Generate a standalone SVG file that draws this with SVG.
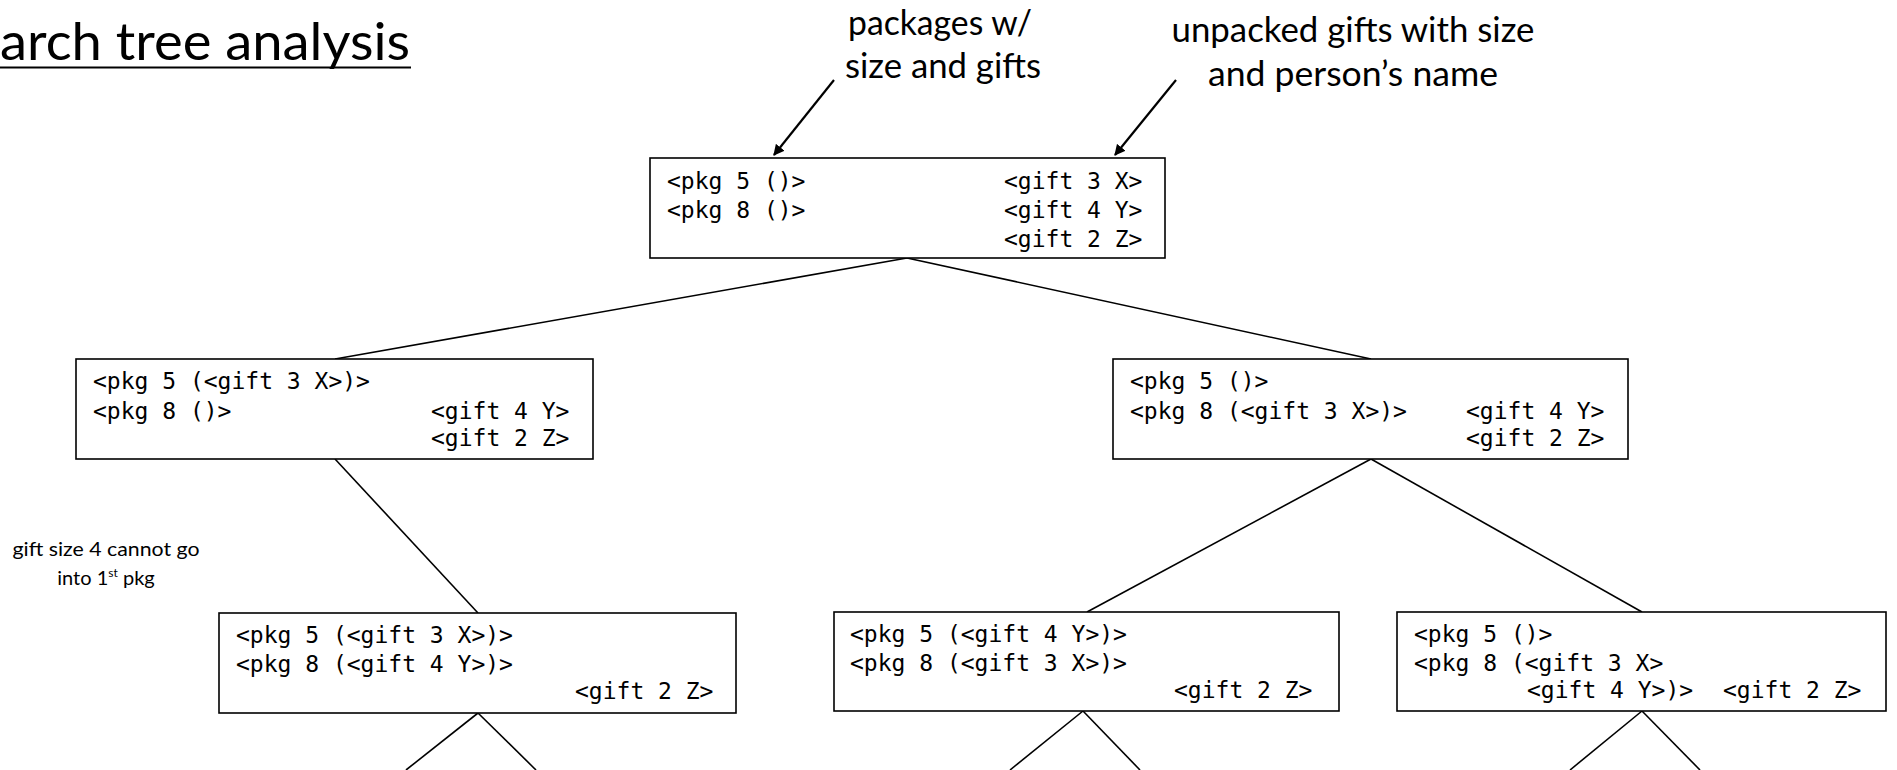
<svg xmlns="http://www.w3.org/2000/svg" width="1897" height="770" viewBox="0 0 1897 770">
<style>
.box{fill:#fff;stroke:#000;stroke-width:1.6}
.mono{font-family:"DejaVu Sans Mono","Liberation Mono",monospace;font-size:23px;fill:#000}
.lbl{font-family:"Lato","Liberation Sans",sans-serif;fill:#000}
.edge{stroke:#000;stroke-width:1.6;fill:none}
.arr{stroke:#000;stroke-width:2.2;fill:none}
</style>
<defs>
<marker id="ah" viewBox="0 0 10 10" refX="9" refY="5" markerWidth="5" markerHeight="5" orient="auto" markerUnits="strokeWidth">
<path d="M0,0 L10,5 L0,10 z" fill="#000"/>
</marker>
</defs>
<rect width="1897" height="770" fill="#fff"/>
<g id="title">
<text class="lbl" x="0" y="60" font-size="52" textLength="410" lengthAdjust="spacingAndGlyphs">arch tree analysis</text>
<line x1="0" y1="67.5" x2="411" y2="67.5" stroke="#000" stroke-width="2.2"/>
</g>
<g id="label-packages">
<text class="lbl" x="940" y="35" font-size="34" text-anchor="middle" textLength="184" lengthAdjust="spacingAndGlyphs">packages w/</text>
<text class="lbl" x="943" y="78" font-size="34" text-anchor="middle" textLength="196" lengthAdjust="spacingAndGlyphs">size and gifts</text>
</g>
<g id="label-unpacked">
<text class="lbl" x="1353" y="42" font-size="34" text-anchor="middle" textLength="363" lengthAdjust="spacingAndGlyphs">unpacked gifts with size</text>
<text class="lbl" x="1353" y="86" font-size="34" text-anchor="middle" textLength="290" lengthAdjust="spacingAndGlyphs">and person’s name</text>
</g>
<g id="note">
<text class="lbl" x="106" y="556" font-size="20" text-anchor="middle" textLength="187" lengthAdjust="spacingAndGlyphs">gift size 4 cannot go</text>
<text class="lbl" x="106" y="585" font-size="20" text-anchor="middle">into 1<tspan font-size="12" dy="-8">st</tspan><tspan dy="8"> pkg</tspan></text>
</g>
<g id="connectors">
<line class="arr" x1="834" y1="80" x2="774" y2="155" marker-end="url(#ah)"/>
<line class="arr" x1="1176" y1="80" x2="1115" y2="155" marker-end="url(#ah)"/>
<line class="edge" x1="907" y1="258" x2="335" y2="359"/>
<line class="edge" x1="907" y1="258" x2="1371" y2="359"/>
<line class="edge" x1="335" y1="459" x2="478" y2="613"/>
<line class="edge" x1="1371" y1="459" x2="1087" y2="612"/>
<line class="edge" x1="1371" y1="459" x2="1642" y2="612"/>
<line class="edge" x1="478" y1="713" x2="406" y2="770"/>
<line class="edge" x1="478" y1="713" x2="536" y2="770"/>
<line class="edge" x1="1083" y1="711" x2="1010" y2="770"/>
<line class="edge" x1="1083" y1="711" x2="1140" y2="770"/>
<line class="edge" x1="1642" y1="711" x2="1570" y2="770"/>
<line class="edge" x1="1642" y1="711" x2="1700" y2="770"/>
</g>
<g id="node-root">
<rect class="box" x="650" y="158" width="515" height="100"/>
<text class="mono" x="667" y="189">&lt;pkg 5 ()&gt;</text>
<text class="mono" x="667" y="218">&lt;pkg 8 ()&gt;</text>
<text class="mono" x="1004" y="189">&lt;gift 3 X&gt;</text>
<text class="mono" x="1004" y="218">&lt;gift 4 Y&gt;</text>
<text class="mono" x="1004" y="247">&lt;gift 2 Z&gt;</text>
</g>
<g id="node-left">
<rect class="box" x="76" y="359" width="517" height="100"/>
<text class="mono" x="93" y="389">&lt;pkg 5 (&lt;gift 3 X&gt;)&gt;</text>
<text class="mono" x="93" y="419">&lt;pkg 8 ()&gt;</text>
<text class="mono" x="431" y="419">&lt;gift 4 Y&gt;</text>
<text class="mono" x="431" y="446">&lt;gift 2 Z&gt;</text>
</g>
<g id="node-right">
<rect class="box" x="1113" y="359" width="515" height="100"/>
<text class="mono" x="1130" y="389">&lt;pkg 5 ()&gt;</text>
<text class="mono" x="1130" y="419">&lt;pkg 8 (&lt;gift 3 X&gt;)&gt;</text>
<text class="mono" x="1466" y="419">&lt;gift 4 Y&gt;</text>
<text class="mono" x="1466" y="446">&lt;gift 2 Z&gt;</text>
</g>
<g id="node-ll">
<rect class="box" x="219" y="613" width="517" height="100"/>
<text class="mono" x="236" y="643">&lt;pkg 5 (&lt;gift 3 X&gt;)&gt;</text>
<text class="mono" x="236" y="672">&lt;pkg 8 (&lt;gift 4 Y&gt;)&gt;</text>
<text class="mono" x="575" y="699">&lt;gift 2 Z&gt;</text>
</g>
<g id="node-rl">
<rect class="box" x="834" y="612" width="505" height="99"/>
<text class="mono" x="850" y="642">&lt;pkg 5 (&lt;gift 4 Y&gt;)&gt;</text>
<text class="mono" x="850" y="671">&lt;pkg 8 (&lt;gift 3 X&gt;)&gt;</text>
<text class="mono" x="1174" y="698">&lt;gift 2 Z&gt;</text>
</g>
<g id="node-rr">
<rect class="box" x="1397" y="612" width="489" height="99"/>
<text class="mono" x="1414" y="642">&lt;pkg 5 ()&gt;</text>
<text class="mono" x="1414" y="671">&lt;pkg 8 (&lt;gift 3 X&gt;</text>
<text class="mono" x="1527" y="698">&lt;gift 4 Y&gt;)&gt;</text>
<text class="mono" x="1723" y="698">&lt;gift 2 Z&gt;</text>
</g>
</svg>
